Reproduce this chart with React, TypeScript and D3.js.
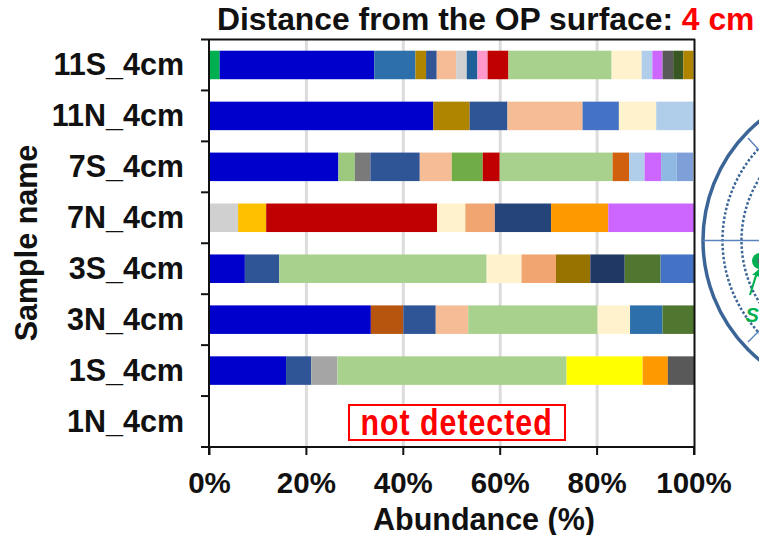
import React from "react";
import * as d3 from "d3";

const samples = ["11S_4cm", "11N_4cm", "7S_4cm", "7N_4cm", "3S_4cm", "3N_4cm", "1S_4cm", "1N_4cm"];
const xTicks = [0, 20, 40, 60, 80, 100];

const BLUE = "#0000CC", NAVY = "#2F5597", PEACH = "#F5BC96", LIME = "#A9D18E", CREAM = "#FFF2CC",
  SKY = "#B0CDEA", VIOLET = "#CC66FF", RED = "#C00000", OCHRE = "#AF8500", GREY = "#D0D0D0",
  DGREY = "#595959", STEEL = "#2C6FAB", MOSS = "#50772F", ROYAL = "#4472C4", ORANGE = "#FF9900";

const v11S = [2.1, 31.9, 8.5, 2.2, 2.2, 4.0, 2.2, 2.2, 2.1, 4.3, 21.3, 6.2, 2.2, 2.1, 2.2, 2.1, 2.1];
const c11S = ["#00B050", BLUE, STEEL, OCHRE, NAVY, PEACH, GREY, "#20609A", "#FF99CC", RED, LIME, CREAM, SKY, VIOLET, DGREY, "#385723", OCHRE];
const v11N = [46.2, 7.5, 7.8, 15.5, 7.5, 7.7, 7.8];
const c11N = [BLUE, OCHRE, NAVY, PEACH, ROYAL, CREAM, SKY];
const v7S = [26.6, 3.4, 3.2, 10.2, 6.6, 6.4, 3.5, 23.3, 3.4, 3.2, 3.4, 3.2, 3.4];
const c7S = [BLUE, "#9DC97F", "#7A7A7A", NAVY, PEACH, "#70AD47", RED, LIME, "#D05F0E", SKY, VIOLET, "#8FB9E3", "#7F9FD8"];
const v7N = [5.9, 5.8, 35.3, 5.8, 6.1, 11.6, 11.8, 17.7];
const c7N = [GREY, "#FFC000", RED, CREAM, "#F1A671", "#254479", ORANGE, VIOLET];
const v3S = [7.3, 7.1, 42.8, 7.2, 7.1, 7.1, 7.1, 7.4, 7.0];
const c3S = [BLUE, NAVY, LIME, CREAM, "#F1A671", "#997300", "#1F3864", MOSS, ROYAL];
const v3N = [33.3, 6.7, 6.7, 6.7, 26.7, 6.7, 6.7, 6.6];
const c3N = [BLUE, "#B7550E", NAVY, PEACH, LIME, CREAM, STEEL, MOSS];
const v1S = [15.8, 5.2, 5.4, 47.3, 15.7, 5.2, 5.4];
const c1S = [BLUE, NAVY, "#A5A5A5", LIME, "#FFFF00", ORANGE, DGREY];
const v1N: number[] = [];
const c1N: string[] = [];

const rowValues = [v11S, v11N, v7S, v7N, v3S, v3N, v1S, v1N];
const rowColors = [c11S, c11N, c7S, c7N, c3S, c3N, c1S, c1N];

const FONT = "'Liberation Sans', Arial, sans-serif";

export default function App() {
  const x = d3.scaleLinear().domain([0, 100]).range([209.5, 694]);
  const y = d3.scaleBand<string>().domain(samples).range([39.5, 447]).paddingInner(0.44).paddingOuter(0.22);
  const stack = (vals: number[]) => {
    let acc = 0;
    return vals.map((v) => {
      const s = acc;
      acc += v;
      return [s, acc];
    });
  };
  const yEdges = d3.range(samples.length + 1).map((i) => 39.5 + (i * (447 - 39.5)) / samples.length);

  return (
    <svg width={759} height={535} style={{ position: "absolute", left: 0, top: 0, background: "#fff" }} fontFamily={FONT}>
      {/* emblem */}
      <g fill="none" stroke="#3A6596">
        <circle cx={857.5} cy={240.5} r={154.5} strokeWidth={3.5} />
        <circle cx={857.5} cy={240.5} r={135} strokeWidth={2.5} strokeDasharray="2.5 2" />
        <circle cx={857.5} cy={240.5} r={116} strokeWidth={2.5} strokeDasharray="2.5 2" />
        <g stroke="#5B83BE" strokeWidth={1.5}>
          <line x1={703} y1={240.5} x2={759} y2={240.5} />
          <line x1={748} y1={138} x2={759} y2={150} />
          <line x1={748} y1={342} x2={759} y2={331} />
        </g>
      </g>
      <g fill="#00B050">
        <circle cx={760} cy={261} r={8} />
        <circle cx={761} cy={261} r={3.5} fill="#5B5B7B" />
        <path d="M749 295 L755 275 L752 275 L759 269 L759 277 L757 276 L751 295 Z" />
        <text x={745.5} y={322} fontSize={20} fontStyle="italic" fontWeight={700}>S</text>
      </g>

      {/* grid */}
      {xTicks.slice(1, -1).map((t) => (
        <line key={t} x1={x(t)} x2={x(t)} y1={40} y2={447} stroke="#DCDCDC" strokeWidth={3} />
      ))}

      {/* bars */}
      {samples.map((s, i) =>
        stack(rowValues[i]).map(([a, b], j) => (
          <rect key={s + j} x={x(a)} width={x(b) - x(a)} y={y(s)!} height={y.bandwidth()} fill={rowColors[i][j]} />
        ))
      )}

      {/* axes */}
      <g stroke="#111" strokeWidth={2}>
        <line x1={209} x2={209} y1={39} y2={455} />
        <line x1={694.5} x2={694.5} y1={39} y2={455} />
        <line x1={201} x2={695} y1={447} y2={447} />
        {yEdges.map((e) => (
          <line key={e} x1={201} x2={e === yEdges[0] ? 695 : 209} y1={e} y2={e} />
        ))}
        {xTicks.map((t) => (
          <line key={t} x1={x(t)} x2={x(t)} y1={447} y2={455} />
        ))}
      </g>

      {/* labels */}
      <g fontWeight={700} fontSize={30.5} fill="#111">
        {samples.map((s) => (
          <text key={s} x={184} y={y(s)! + y.bandwidth() / 2 + 10} textAnchor="end">{s}</text>
        ))}
        {xTicks.map((t) => (
          <text key={t} x={x(t)} y={493} textAnchor="middle" fontSize={29.5}>{t}%</text>
        ))}
        <text x={484} y={529.5} textAnchor="middle">Abundance (%)</text>
        <text transform="translate(37,243) rotate(-90)" textAnchor="middle">Sample name</text>
      </g>
      <text x={217} y={30} fontSize={31.85} fontWeight={700} fill="#111">
        Distance from the OP surface: <tspan fill="#FF0000">4 cm</tspan>
      </text>

      {/* not detected */}
      <rect x={349} y={405} width={216} height={35} fill="#fff" stroke="#FF0000" strokeWidth={2} />
      <text transform="translate(360.5,434.5) scale(0.82,1)" fontSize={37} fontWeight={700} fill="#FF0000"
        letterSpacing={1.2}>not detected</text>
    </svg>
  );
}
